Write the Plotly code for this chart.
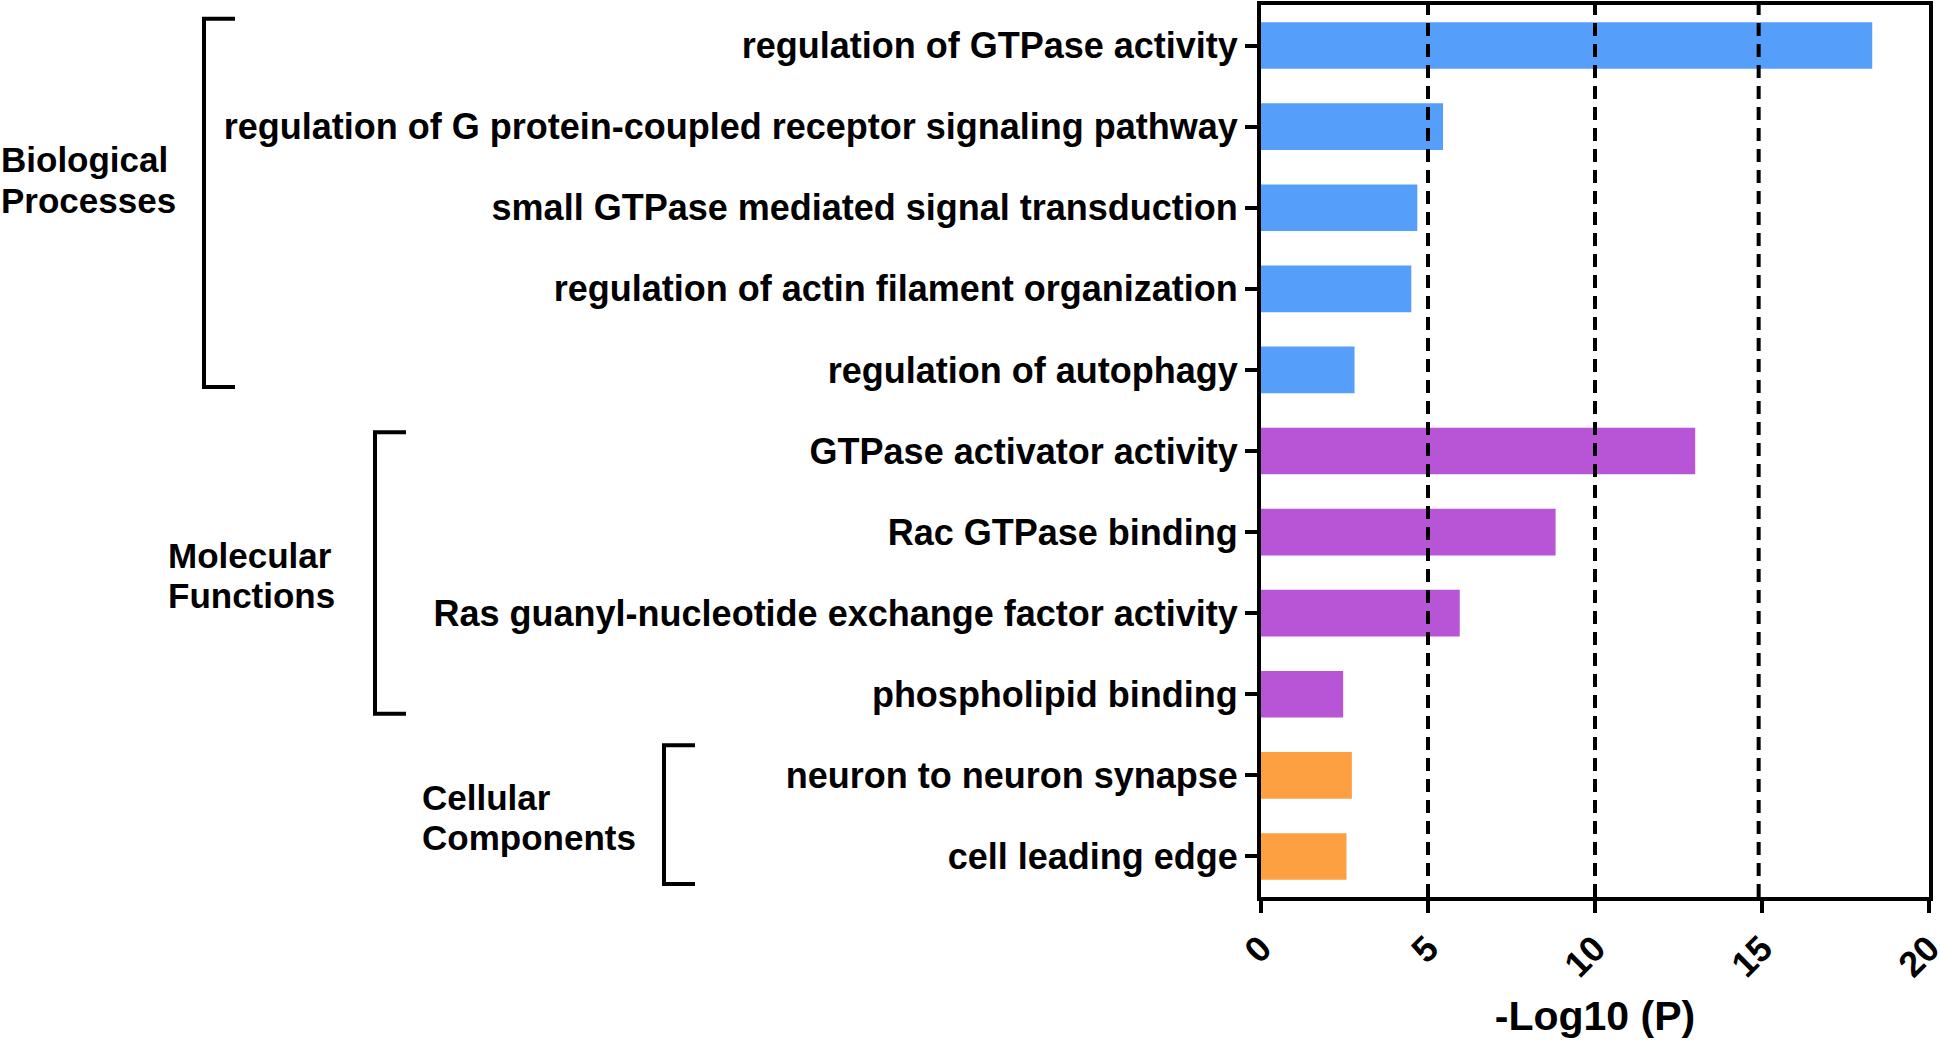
import plotly.graph_objects as go

categories = [
    "regulation of GTPase activity",
    "regulation of G protein-coupled receptor signaling pathway",
    "small GTPase mediated signal transduction",
    "regulation of actin filament organization",
    "regulation of autophagy",
    "GTPase activator activity",
    "Rac GTPase binding",
    "Ras guanyl-nucleotide exchange factor activity",
    "phospholipid binding",
    "neuron to neuron synapse",
    "cell leading edge",
]
values = [18.3, 5.45, 4.68, 4.5, 2.8, 13.0, 8.82, 5.95, 2.46, 2.72, 2.56]
groups = ["BP", "BP", "BP", "BP", "BP", "MF", "MF", "MF", "MF", "CC", "CC"]
group_colors = {"BP": "#559FFB", "MF": "#B755D6", "CC": "#FCA042"}
group_names = {"BP": ["Biological", "Processes"],
               "MF": ["Molecular", "Functions"],
               "CC": ["Cellular", "Components"]}
ref_lines = [5, 10, 14.9]
x_ticks = [0, 5, 10, 15, 20]

FONT = "Arial, Liberation Sans, Helvetica, sans-serif"
W, H = 1940, 1040
L, R, T, B = 1261, 11, 5, 143
pw = W - L - R
n = len(categories)

def px_to_paper_x(px):
    return (px - L) / pw

def idx_to_paper_y(v):
    return 1 - (v + 0.5) / n

idx = list(range(n))
fig = go.Figure(go.Bar(
    x=values, y=idx, orientation="h",
    marker=dict(color=[group_colors[g] for g in groups], line=dict(width=0)),
    width=0.575,
))

shapes = []
for xv in ref_lines:
    shapes.append(dict(type="line", xref="x", yref="paper", x0=xv, x1=xv, y0=0, y1=1,
                       line=dict(color="black", width=4, dash="13px,8px"), layer="above"))

# brackets: (group, top offset index, bottom offset index, vertical line px, arm end px)
brackets = [
    ("BP", -0.33, 4.21, 204, 235),
    ("MF", 4.77, 8.24, 375, 406),
    ("CC", 8.63, 10.34, 664, 695),
]
for g, y0, y1, xv, xa in brackets:
    p0 = idx_to_paper_y(y0)
    p1 = idx_to_paper_y(y1)
    xv_p = px_to_paper_x(xv)
    xa_p = px_to_paper_x(xa)
    shapes.append(dict(type="path", xref="paper", yref="paper",
                       path=f"M {xa_p},{p0} L {xv_p},{p0} L {xv_p},{p1} L {xa_p},{p1}",
                       line=dict(color="black", width=4)))

annotations = []
label_pos = {"BP": (0, 1.405, 1.908), "MF": (167, 6.29, 6.78), "CC": (421, 9.27, 9.77)}
for g, (px, ya, yb) in label_pos.items():
    for txt, yy in zip(group_names[g], (ya, yb)):
        annotations.append(dict(text=txt, xref="paper", yref="paper",
                                x=px_to_paper_x(px), y=idx_to_paper_y(yy),
                                xanchor="left", yanchor="middle", showarrow=False,
                                borderpad=0,
                                font=dict(family=FONT, size=35, color="black", weight="bold")))

fig.update_layout(
    width=W, height=H,
    margin=dict(l=L, r=R, t=T, b=B),
    plot_bgcolor="white", paper_bgcolor="white",
    showlegend=False,
    bargap=0.425,
    shapes=shapes,
    annotations=annotations,
    font=dict(family=FONT, color="black"),
)
fig.update_xaxes(
    range=[0, 20], tickvals=x_ticks, ticktext=[str(t) for t in x_ticks],
    tickangle=-45, tickfont=dict(family=FONT, size=36, color="black", weight="bold"),
    ticklabeloverflow="allow", automargin=False,
    showline=True, linewidth=4, linecolor="black", mirror=True,
    ticks="outside", ticklen=12, tickwidth=4, tickcolor="black",
    showgrid=False, zeroline=False,
    title=dict(text="-Log10 (P)", font=dict(family=FONT, size=41, color="black", weight="bold"),
               standoff=18),
)
fig.update_yaxes(
    range=[n - 0.5, -0.5], tickvals=idx, ticktext=categories,
    tickfont=dict(family=FONT, size=36, color="black", weight="bold"),
    automargin=False,
    showline=True, linewidth=4, linecolor="black", mirror=True,
    ticks="outside", ticklen=12, tickwidth=4, tickcolor="black",
    showgrid=False, zeroline=False, ticklabelstandoff=0,
)

fig.write_html(
    "out.html",
    config={"displayModeBar": False},
    post_script="document.body.style.margin='0';document.body.style.overflow='hidden';",
)
